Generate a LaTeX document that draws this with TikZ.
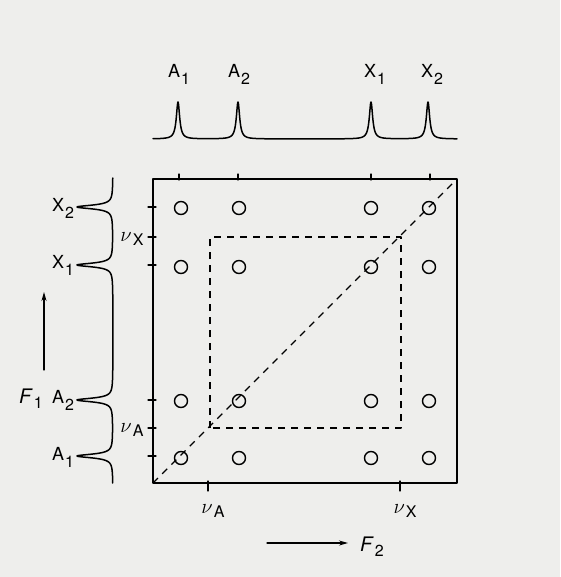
\documentclass[tikz,border=0pt]{standalone}
\usepackage{fontspec}
\setmainfont{TeX Gyre Heros}
\usetikzlibrary{arrows.meta}
\definecolor{paper}{RGB}{238,238,236}
\newcommand\lsub[2][-7pt]{\kern1pt\raisebox{#1}{\fontsize{16}{16}\selectfont #2}}
\newcommand\nusym{\fontsize{21}{21}\selectfont$\nu$}
\begin{document}
\begin{tikzpicture}[x=1pt,y=-1pt,
  line cap=round, line join=round,
  frame/.style={line width=1.5pt},
  spec/.style={line width=1.5pt},
  tick/.style={line width=1.3pt},
  dsh/.style={line width=1.3pt, dash pattern=on 7pt off 6pt, line cap=butt},
  cross/.style={circle, draw, line width=1.4pt, minimum size=13pt, inner sep=0pt},
  lab/.style={font=\fontsize{18}{18}\selectfont, inner sep=0pt},
  big/.style={font=\fontsize{20}{20}\selectfont, inner sep=0pt},
  arr/.style={line width=1.3pt, -{Stealth[length=9pt,width=5pt]}},
  declare function={L(\t,\c)=0.04/((\t/10-\c/10)^2+0.04);
                    M(\t,\c)=0.05/((\t/10-\c/10)^2+0.05);}
]
\fill[paper] (0,0) rectangle (560,577);
\useasboundingbox (0,0) rectangle (560,577);

% frame
\coordinate (BL) at (153,483);
\coordinate (TR) at (457,179);
\draw[frame] (BL) rectangle (TR);

% ticks top
\foreach \x in {179,238,371,430} \draw[tick] (\x,174) -- (\x,180);
% ticks left
\foreach \y in {207,237,265,400,428,456} \draw[tick] (148,\y) -- (156,\y);
% ticks bottom
\foreach \x in {208,400} \draw[tick] (\x,481) -- (\x,491);

% inner dashed square and diagonal
\coordinate (IA) at (210,428);
\coordinate (IX) at (401,237);
\draw[dsh] (IA) rectangle (IX);
\draw[dsh] (BL) -- (TR);

% cross peaks
\foreach \x/\i in {181/1,239/2,371/3,429/4}
  \foreach \y/\j in {208/1,267/2,401/3,458/4}
    \node[cross] (c\i\j) at (\x,\y) {};

% top spectrum
\draw[spec] plot[domain=153:457, samples=900]
  (\x, {139 - 37*(L(\x,178)+L(\x,238)+L(\x,371)+L(\x,428))});
% left spectrum
\draw[spec] plot[domain=178:483, samples=900]
  ({113 - 36*(M(\x,207)+M(\x,265)+M(\x,400)+M(\x,456))}, \x);

% labels top
\node[lab] (tA1) at (179,74) {A\lsub{1}};
\node[lab] (tA2) at (239,74) {A\lsub{2}};
\node[lab] (tX1) at (375,74) {X\lsub{1}};
\node[lab] (tX2) at (432,74) {X\lsub{2}};
% labels left
\node[lab] (lX2) at (63,208) {X\lsub{2}};
\node[lab] (lX1) at (63,265) {X\lsub{1}};
\node[lab] (lA2) at (63,400) {A\lsub{2}};
\node[lab] (lA1) at (63,457) {A\lsub{1}};
\node[lab] (nX) at (132,239) {\nusym\lsub[-4pt]{X}};
\node[lab] (nA) at (132,430) {\nusym\lsub[-4pt]{A}};
% bottom labels
\node[lab] (bA) at (213,511) {\nusym\lsub[-4pt]{A}};
\node[lab] (bX) at (405,511) {\nusym\lsub[-4pt]{X}};

% axis arrows
\coordinate (f1a) at (44,370);
\coordinate (f1b) at (44,292);
\draw[arr] (f1a) -- (f1b);
\node[big] (F1) at (31,399) {\textit{F}\lsub[-5pt]{1}};
\coordinate (f2a) at (267,543);
\coordinate (f2b) at (348,543);
\draw[arr] (f2a) -- (f2b);
\node[big] (F2) at (372,547) {\textit{F}\lsub[-5pt]{2}};
\end{tikzpicture}
\end{document}
